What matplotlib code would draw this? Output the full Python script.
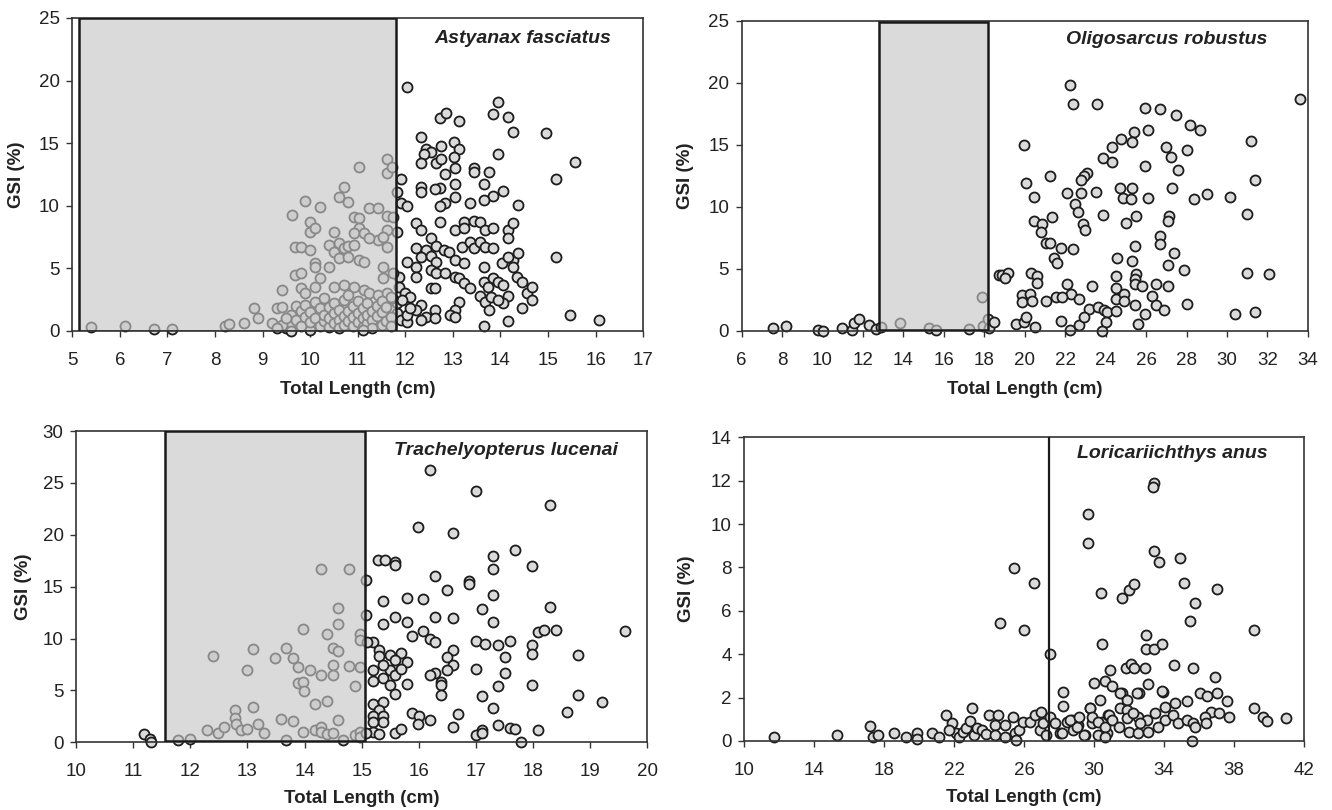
import numpy as np
import matplotlib
matplotlib.use("Agg")
import matplotlib.pyplot as plt
from matplotlib.patches import Rectangle

plt.rcParams["font.family"] = ["Liberation Sans", "DejaVu Sans"]

# ---- data (total length cm, GSI %) ----
astyanax_pts = [
    (12.04, 19.5), (13.95, 18.3), (12.72, 17.0), (12.85, 17.4), (13.13, 16.8), (13.84, 17.3), (14.16, 17.1),
    (14.26, 15.9), (14.96, 15.8), (12.32, 15.5), (12.43, 14.5), (12.53, 14.3), (12.39, 14.1), (12.74, 14.8),
    (13.03, 15.1), (13.13, 14.5), (13.03, 13.9), (12.32, 13.4), (12.64, 13.4), (12.74, 13.7), (13.95, 14.1),
    (15.57, 13.5), (13.45, 13.0), (13.45, 12.7), (13.76, 12.7), (12.84, 12.5), (13.04, 13.0), (11.91, 12.1),
    (15.17, 12.1), (12.32, 11.5), (12.32, 11.1), (12.73, 11.4), (12.62, 11.3), (13.04, 11.7), (13.04, 10.7),
    (13.65, 11.7), (14.06, 11.2), (13.84, 10.8), (13.65, 10.5), (11.82, 11.1), (11.91, 10.2), (12.04, 9.95),
    (12.84, 10.2), (12.72, 9.95), (13.35, 10.2), (14.36, 10.1), (12.72, 8.7), (12.23, 8.6), (12.32, 8.1),
    (13.24, 8.7), (13.45, 8.8), (13.56, 8.7), (13.04, 8.1), (13.24, 8.2), (13.67, 8.1), (13.84, 8.2),
    (14.15, 8.1), (14.27, 8.6), (11.82, 7.9), (14.15, 7.4), (12.53, 7.4), (12.64, 6.8), (12.23, 6.6),
    (12.43, 6.5), (12.82, 6.5), (12.92, 6.3), (13.2, 6.7), (13.35, 7.1), (13.45, 6.6), (13.56, 7.1),
    (13.67, 6.7), (13.84, 6.6), (12.32, 5.9), (12.53, 6.0), (12.64, 5.5), (13.04, 5.7), (12.04, 5.5),
    (12.23, 5.1), (12.23, 4.3), (12.53, 4.9), (12.64, 4.6), (12.84, 4.6), (13.04, 4.3), (13.13, 4.2),
    (13.24, 5.4), (13.66, 5.1), (14.04, 5.4), (14.27, 5.7), (14.36, 6.2), (14.16, 5.9), (14.27, 5.1),
    (14.34, 4.3), (15.16, 5.9), (13.24, 3.8), (13.35, 3.4), (13.66, 3.9), (13.84, 4.2), (13.95, 3.9),
    (14.06, 3.7), (13.74, 3.5), (14.45, 3.9), (14.56, 3.0), (14.67, 3.5), (14.67, 2.5), (12.53, 3.4),
    (12.62, 3.4), (11.86, 4.3), (11.86, 3.5), (12.0, 3.0), (12.1, 2.7), (13.56, 2.8), (13.67, 2.3),
    (13.81, 2.7), (14.16, 2.8), (14.06, 2.2), (13.95, 2.5), (13.13, 2.3), (13.04, 1.7), (12.94, 1.3),
    (13.04, 1.1), (12.32, 2.1), (12.23, 1.7), (12.62, 1.7), (12.43, 1.1), (12.62, 1.0), (14.45, 1.8),
    (13.75, 1.7), (14.16, 0.8), (13.66, 0.4), (15.46, 1.3), (16.06, 0.9), (11.82, 1.4), (11.91, 0.9),
    (12.04, 0.75), (12.04, 1.3), (12.1, 1.8), (12.32, 0.9), (11.82, 2.2), (11.92, 2.5),
    # smaller fish
    (5.39, 0.3), (6.1, 0.4), (6.71, 0.15), (7.09, 0.15), (8.2, 0.4), (8.3, 0.55), (8.6, 0.65), (8.82, 1.8),
    (8.9, 1.0), (9.2, 0.6), (9.31, 1.8), (9.41, 1.9), (9.41, 3.3), (9.61, 9.3), (9.68, 6.7), (9.8, 6.7),
    (9.68, 4.5), (9.8, 4.6), (9.8, 3.4), (9.9, 3.0), (9.9, 10.4), (10.0, 8.7), (10.0, 7.9), (10.1, 8.2),
    (10.0, 6.5), (10.2, 9.9), (10.1, 5.4), (10.1, 5.1), (10.2, 4.2), (10.1, 3.5), (10.4, 5.1), (10.5, 7.9),
    (10.4, 6.9), (10.6, 7.0), (10.6, 10.7), (10.7, 11.5), (10.8, 10.3), (10.5, 6.3), (10.7, 6.6),
    (10.92, 9.1), (11.03, 9.0), (11.03, 8.2), (10.92, 7.8), (11.13, 7.8), (11.03, 13.1), (11.23, 9.8),
    (11.42, 9.8), (11.61, 13.7), (11.61, 12.6), (11.71, 13.1), (11.61, 9.2), (11.61, 8.1), (11.61, 6.7),
    (11.42, 7.3), (11.52, 7.5), (11.23, 7.4), (10.6, 5.8), (10.8, 5.9), (11.03, 5.7), (11.13, 5.5),
    (10.8, 6.8), (10.92, 6.9), (11.52, 5.1), (11.52, 4.2), (11.73, 4.6), (11.73, 9.1), (10.5, 3.5),
    (10.7, 3.7), (10.92, 3.5), (11.13, 3.3), (11.23, 3.0), (11.42, 2.9), (11.61, 3.0), (11.71, 2.6),
    (9.5, 0.2), (9.6, 0.6), (9.6, 1.3), (9.7, 2.0), (9.7, 0.9), (9.8, 0.4), (9.8, 1.6), (9.9, 1.1),
    (9.9, 2.1), (10.0, 0.1), (10.0, 0.7), (10.0, 1.5), (10.1, 1.0), (10.1, 2.3), (10.2, 0.4), (10.2, 1.8),
    (10.3, 0.8), (10.3, 1.3), (10.3, 2.6), (10.4, 0.3), (10.4, 1.0), (10.4, 1.9), (10.5, 0.6), (10.5, 1.4),
    (10.5, 2.2), (10.6, 0.9), (10.6, 1.7), (10.6, 0.2), (10.7, 1.2), (10.7, 2.5), (10.7, 0.5), (10.8, 0.8),
    (10.8, 1.6), (10.8, 2.9), (10.9, 0.4), (10.9, 1.1), (10.9, 2.0), (11.0, 0.7), (11.0, 1.4), (11.0, 2.4),
    (11.1, 0.3), (11.1, 1.0), (11.1, 1.8), (11.2, 0.6), (11.2, 1.3), (11.2, 2.2), (11.3, 0.9), (11.3, 1.6),
    (11.3, 0.2), (11.4, 1.2), (11.4, 2.0), (11.5, 0.5), (11.5, 1.5), (11.5, 2.4), (11.6, 0.8), (11.6, 1.9),
    (11.7, 1.1), (11.7, 0.4), (11.7, 2.7), (9.4, 0.5), (9.5, 1.0), (9.3, 0.2), (11.1, 0.05), (9.6, 0.0),
]

oligosarcus_pts = [
    (7.53, 0.27), (8.19, 0.4), (9.78, 0.08), (10.03, 0.0), (10.97, 0.2), (11.48, 0.08), (11.54, 0.67),
    (11.79, 0.94), (12.28, 0.48), (12.66, 0.13), (12.9, 0.35), (13.84, 0.62), (15.26, 0.2), (15.62, 0.08),
    (17.26, 0.16), (17.89, 2.77), (17.92, 0.4), (18.17, 1.0), (18.25, 0.2), (18.5, 0.75), (18.71, 4.5),
    (22.26, 19.8), (22.4, 18.3), (23.59, 18.3), (33.59, 18.7), (25.95, 18.0), (26.69, 17.9), (27.47, 17.4),
    (28.18, 16.6), (28.68, 16.2), (26.07, 16.2), (25.4, 16.0), (25.29, 15.2), (24.78, 15.5), (24.3, 14.8),
    (19.95, 15.0), (26.98, 14.8), (27.22, 14.0), (28.02, 14.6), (31.19, 15.3), (23.88, 13.9), (24.33, 13.6),
    (25.95, 13.3), (27.6, 13.0), (21.27, 12.5), (23.09, 12.7), (22.93, 12.5), (22.76, 12.2), (20.08, 11.95),
    (31.4, 12.2), (22.1, 11.1), (22.76, 11.1), (23.5, 11.2), (24.71, 11.5), (25.29, 11.5), (24.88, 10.7),
    (25.24, 10.6), (27.3, 11.5), (26.07, 10.7), (20.48, 10.8), (28.38, 10.6), (29.0, 11.0), (30.17, 10.8),
    (30.99, 9.4), (22.48, 10.2), (22.64, 9.6), (23.88, 9.35), (21.36, 9.2), (20.45, 8.9), (20.83, 8.6),
    (20.78, 8.0), (22.89, 8.6), (23.0, 8.1), (24.99, 8.7), (25.49, 9.3), (27.14, 9.3), (27.06, 8.9),
    (21.06, 7.1), (21.27, 7.1), (21.77, 6.7), (22.4, 6.6), (26.69, 7.65), (26.69, 7.0), (25.45, 6.85),
    (27.36, 6.3), (21.44, 5.85), (21.57, 5.5), (24.58, 5.9), (25.29, 5.6), (27.06, 5.3), (27.88, 4.9),
    (30.99, 4.65), (32.1, 4.6), (18.88, 4.5), (19.16, 4.7), (19.0, 4.3), (20.31, 4.65), (20.61, 4.4),
    (20.61, 3.9), (24.5, 4.4), (24.5, 3.5), (25.52, 4.6), (25.45, 4.2), (25.45, 3.8), (25.82, 3.6),
    (26.48, 3.8), (27.1, 3.6), (22.1, 3.8), (22.31, 3.0), (23.31, 3.6), (19.87, 2.9), (20.28, 3.0),
    (19.87, 2.3), (20.36, 2.4), (21.07, 2.4), (21.55, 2.7), (21.82, 2.7), (22.68, 2.6), (24.5, 2.6),
    (24.91, 3.0), (24.91, 2.4), (26.28, 2.8), (26.48, 2.1), (26.86, 1.7), (28.02, 2.2), (25.45, 2.1),
    (23.17, 1.75), (23.62, 1.9), (23.92, 1.7), (24.05, 1.55), (24.5, 1.6), (25.95, 1.4), (30.4, 1.4),
    (31.4, 1.5), (19.59, 0.6), (19.98, 0.75), (20.08, 1.15), (20.5, 0.35), (21.77, 0.83), (22.26, 0.08),
    (22.68, 0.5), (22.93, 1.1), (24.0, 0.7), (23.8, 0.0), (25.62, 0.6),
]

trachelyopterus_pts = [
    (11.19, 0.77), (11.3, 0.3), (11.32, 0.06), (11.79, 0.22), (12.0, 0.3), (12.3, 1.2), (12.49, 0.87),
    (12.59, 1.5), (12.39, 8.35), (12.78, 3.1), (12.78, 2.3), (12.8, 1.8), (12.88, 1.2), (13.0, 1.25),
    (12.99, 7.0), (13.09, 9.0), (13.09, 3.4), (13.19, 1.77), (13.29, 0.87), (13.48, 8.1), (13.59, 2.25),
    (13.79, 2.05), (13.68, 9.06), (13.79, 8.1), (13.89, 7.3), (13.68, 0.22), (13.89, 5.75), (13.98, 5.85),
    (13.99, 4.9), (14.1, 7.0), (13.98, 10.9), (13.98, 1.0), (14.18, 1.2), (14.29, 1.5), (14.29, 1.0),
    (14.39, 0.77), (14.49, 0.93), (14.18, 3.7), (14.39, 4.0), (14.29, 6.5), (14.29, 16.7), (14.78, 16.7),
    (14.39, 10.4), (14.49, 9.06), (14.59, 8.8), (14.49, 7.45), (14.49, 6.5), (14.58, 12.9), (14.58, 11.4),
    (14.58, 2.15), (14.68, 0.2), (14.88, 0.7), (14.97, 1.0), (14.97, 0.55), (14.78, 7.36), (14.88, 5.46),
    (14.97, 10.4), (14.97, 9.9), (14.97, 7.3),
    (16.19, 26.2), (17.0, 24.2), (18.3, 22.9), (15.99, 20.7), (16.59, 20.2), (17.68, 18.5), (15.28, 17.6),
    (15.4, 17.6), (15.58, 17.4), (15.58, 17.1), (17.29, 18.0), (17.29, 16.7), (17.98, 17.0), (15.08, 15.6),
    (16.29, 16.0), (16.88, 15.5), (16.88, 15.3), (16.49, 14.7), (17.29, 14.2), (15.38, 13.65), (15.79, 13.9),
    (16.08, 13.8), (17.1, 12.8), (18.3, 13.0), (15.08, 12.3), (15.58, 12.1), (15.79, 11.6), (15.38, 11.4),
    (16.29, 12.1), (16.59, 11.95), (17.29, 11.6), (15.88, 10.2), (16.08, 10.7), (16.19, 10.0), (16.29, 9.7),
    (17.0, 9.8), (17.16, 9.5), (17.39, 9.4), (17.6, 9.8), (18.08, 10.6), (18.19, 10.8), (18.4, 10.8),
    (19.6, 10.7), (17.98, 9.4), (17.98, 8.5), (18.79, 8.4), (15.19, 9.7), (15.3, 8.9), (15.3, 8.3),
    (15.49, 8.4), (15.68, 8.6), (15.79, 7.7), (15.58, 7.9), (15.49, 7.0), (15.58, 6.5), (15.69, 7.1),
    (15.38, 7.45), (15.19, 7.0), (15.19, 5.9), (15.38, 6.2), (15.49, 5.5), (15.58, 4.7), (15.79, 5.6),
    (16.59, 8.9), (16.49, 8.25), (16.59, 7.45), (16.49, 7.0), (16.29, 6.7), (16.19, 6.5), (16.38, 5.85),
    (16.38, 5.5), (16.38, 4.55), (17.0, 7.1), (17.5, 8.2), (17.5, 6.65), (17.39, 5.4), (17.98, 5.5),
    (17.1, 4.5), (18.79, 4.6), (19.2, 3.9), (18.59, 2.9), (17.29, 3.3), (15.19, 3.7), (15.38, 3.85),
    (15.3, 3.1), (15.19, 2.5), (15.38, 2.5), (15.38, 2.0), (15.19, 2.0), (15.88, 2.8), (16.0, 2.5),
    (15.99, 1.8), (16.19, 2.1), (16.69, 2.7), (16.59, 1.45), (17.39, 1.7), (17.6, 1.35), (17.68, 1.25),
    (18.09, 1.2), (17.1, 1.2), (17.0, 0.7), (17.1, 0.87), (17.79, 0.06), (15.19, 1.0), (15.3, 0.77),
    (15.58, 0.93), (15.68, 1.25), (15.1, 9.7), (15.08, 0.9),
]

loricariichthys_pts = [
    (11.71, 0.2), (15.3, 0.28), (17.16, 0.7), (17.38, 0.17), (17.63, 0.28), (18.58, 0.38), (19.24, 0.2),
    (19.9, 0.38), (19.9, 0.08), (20.72, 0.38), (21.14, 0.17), (21.53, 1.2), (21.9, 0.82), (22.1, 0.35),
    (21.7, 0.5), (22.3, 0.2), (22.5, 0.4), (22.66, 0.58), (22.9, 0.9), (23.0, 1.5), (23.14, 0.28),
    (23.3, 0.6), (23.6, 0.5), (23.8, 0.3), (24.62, 5.45), (26.02, 5.1), (27.47, 4.0), (25.42, 7.96),
    (26.57, 7.3), (24.02, 1.2), (24.5, 1.2), (24.31, 0.74), (24.89, 0.74), (24.31, 0.28), (24.89, 0.2),
    (25.46, 0.35), (25.56, 0.05), (25.36, 1.12), (25.71, 0.51), (25.94, 0.89), (26.32, 0.89), (26.61, 1.2),
    (26.9, 0.51), (27.09, 0.81), (26.99, 1.35), (27.47, 1.12), (27.28, 0.28), (27.76, 0.81), (28.05, 0.35),
    (28.43, 0.89), (28.72, 0.97), (28.81, 0.51), (29.1, 0.74), (29.48, 0.28), (29.77, 1.51), (29.87, 0.81),
    (30.25, 0.28), (30.44, 0.89), (30.73, 0.35), (30.82, 1.2), (28.2, 2.24), (28.2, 1.61),
    (33.41, 11.88), (33.35, 11.7), (29.64, 10.45), (29.64, 9.14), (33.41, 8.76), (33.7, 8.24), (34.89, 8.42),
    (30.4, 6.81), (31.59, 6.58), (31.97, 6.96), (32.3, 7.24), (35.17, 7.3), (37.05, 7.0), (35.8, 6.35),
    (35.46, 5.55), (39.16, 5.12), (30.48, 4.47), (32.99, 4.89), (32.99, 4.23), (33.41, 4.23), (33.89, 4.47),
    (30.92, 3.27), (31.84, 3.35), (32.1, 3.53), (32.3, 3.35), (32.9, 3.38), (34.56, 3.5), (35.67, 3.35),
    (36.92, 2.94), (30.02, 2.69), (30.63, 2.77), (31.0, 2.54), (33.07, 2.61), (31.59, 2.2), (32.59, 2.2),
    (33.95, 2.27), (36.05, 2.2), (36.44, 2.07), (37.05, 2.23), (37.59, 1.84), (39.16, 1.51), (39.64, 1.12),
    (39.89, 0.94), (40.98, 1.05), (35.61, 0.0), (31.5, 2.23), (32.48, 2.23), (33.86, 2.3), (36.71, 1.35),
    (37.15, 1.28), (37.7, 1.09), (29.78, 1.50), (30.35, 1.89), (29.88, 1.12), (30.22, 0.89), (30.83, 1.20),
    (30.64, 0.66), (31.02, 0.97), (31.49, 1.50), (31.87, 1.89), (31.87, 1.43), (31.87, 1.04), (31.40, 0.66),
    (31.97, 0.43), (32.54, 1.12), (32.54, 0.35), (33.01, 0.97), (33.11, 0.43), (33.49, 1.27), (34.05, 0.97),
    (34.05, 1.58), (34.62, 1.74), (34.53, 1.20), (34.81, 0.81), (35.29, 1.84), (35.29, 0.97), (35.67, 0.81),
    (35.76, 0.66), (36.33, 1.12), (36.43, 0.81), (30.64, 0.20), (29.40, 0.28), (29.02, 0.66), (28.64, 0.97),
    (28.17, 0.35), (29.12, 1.12), (32.63, 0.81), (32.25, 1.27), (33.67, 0.66),
]

species = ["Astyanax fasciatus", "Oligosarcus robustus", "Trachelyopterus lucenai", "Loricariichthys anus"]
x_limits = [(5, 17), (6, 34), (10, 20), (10, 42)]
y_limits = [(0, 25), (0, 25), (0, 30), (0, 14)]
x_steps = [1, 2, 1, 4]
y_steps = [5, 5, 5, 2]
# immature length range (shaded) for first three, L50 line for the last
shade_x = [(5.15, 11.8), (12.8, 18.2), (11.55, 15.05), None]
shade_y = [(0, 25), (0.1, 24.9), (0.1, 30), None]
cut_line = [None, None, None, 27.45]

panels = [astyanax_pts, oligosarcus_pts, trachelyopterus_pts, loricariichthys_pts]

# axes placement [left, bottom, width, height] in figure fraction
boxes = [
    [0.0543, 0.5914, 0.4286, 0.3864],
    [0.5568, 0.5914, 0.4251, 0.3830],
    [0.0571, 0.0836, 0.4290, 0.3843],
    [0.5588, 0.0852, 0.4201, 0.3750],
]
name_pos = [(0.944, 0.936), (0.929, 0.938), (0.949, 0.937), (0.936, 0.945)]
ylab_x = [-0.083, -0.084, -0.077, -0.088]
xlab_y = [-0.16, -0.16, -0.154, -0.158]

fig = plt.figure(figsize=(13.32, 8.1), dpi=100, facecolor="white")

for i, pts in enumerate(panels):
    ax = fig.add_axes(boxes[i])
    xs, ys = np.array(pts).T

    ax.scatter(xs, ys, s=52, facecolor="#dadada", edgecolor="#1c1c1c",
               linewidth=1.3, zorder=2, clip_on=False)

    if shade_x[i] is not None:
        x0, x1 = shade_x[i]
        y0, y1 = shade_y[i]
        ax.add_patch(Rectangle((x0, y0), x1 - x0, y1 - y0, facecolor="#c6c6c6",
                               alpha=0.64, edgecolor="none", zorder=3))
        ax.add_patch(Rectangle((x0, y0), x1 - x0, y1 - y0, facecolor="none",
                               edgecolor="#1a1a1a", linewidth=1.8, zorder=4))
    if cut_line[i] is not None:
        ax.axvline(cut_line[i], ymin=0, ymax=1, color="#1a1a1a", linewidth=1.6, zorder=4)

    ax.set_xlim(*x_limits[i])
    ax.set_ylim(*y_limits[i])
    ax.set_xticks(np.arange(x_limits[i][0], x_limits[i][1] + 0.01, x_steps[i]))
    ax.set_yticks(np.arange(y_limits[i][0], y_limits[i][1] + 0.01, y_steps[i]))
    ax.tick_params(direction="out", length=4, width=1, colors="#333333",
                   labelsize=13.5, labelcolor="#222222")
    ax.tick_params(axis="x", pad=11)
    ax.tick_params(axis="y", pad=5)

    for sp in ax.spines.values():
        sp.set_color("#333333")
        sp.set_linewidth(1.2)

    ax.set_xlabel("Total Length (cm)", fontsize=13.5, fontweight="bold", color="#222222")
    ax.set_ylabel("GSI (%)", fontsize=13.5, fontweight="bold", color="#222222")
    ax.xaxis.set_label_coords(0.5, xlab_y[i])
    ax.yaxis.set_label_coords(ylab_x[i], 0.5)

    ax.text(name_pos[i][0], name_pos[i][1], species[i], transform=ax.transAxes,
            ha="right", va="center", fontsize=14, fontweight="bold",
            fontstyle="italic", color="#222222", zorder=5)

plt.savefig("out.png", dpi=100, facecolor=fig.get_facecolor())
plt.close(fig)
